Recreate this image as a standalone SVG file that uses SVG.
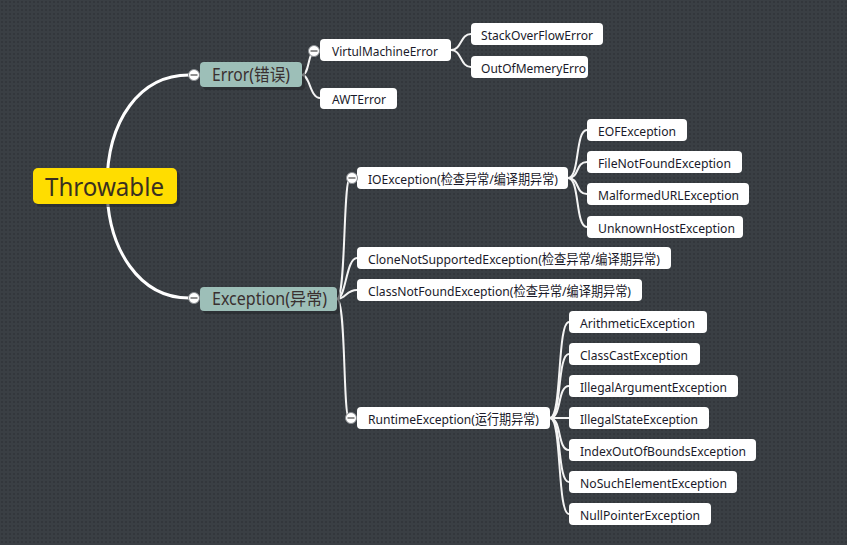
<svg xmlns="http://www.w3.org/2000/svg" width="847" height="545" viewBox="0 0 847 545">
<defs>
<pattern id="dots" width="4" height="4" patternUnits="userSpaceOnUse">
<rect width="4" height="4" fill="#3a3f44"/>
<rect x="1" y="1" width="2" height="2" fill="#33373c"/>
</pattern>
<g id="col">
<circle r="5.5" fill="#ffffff" stroke="#888c90" stroke-width="1"/>
<line x1="-3.5" y1="0" x2="3.5" y2="0" stroke="#555" stroke-width="1.3"/>
</g>
</defs>
<style>
.main{fill:none;stroke:#ffffff;stroke-width:3;stroke-linecap:round}
.sub{fill:none;stroke:#f4f4f4;stroke-width:2}
.box{fill:#ffffff}
.sh{fill:#25282b;opacity:0.6}
.t{font-family:"Microsoft YaHei","Noto Sans","Noto Sans CJK SC",sans-serif;font-size:13.2px;fill:#1a1a2a}
.l1{fill:#9dbfb8}
.t1{font-family:"Microsoft YaHei","Noto Sans","Noto Sans CJK SC",sans-serif;font-size:17.5px;fill:#3a3030}
</style>
<rect width="847" height="545" fill="url(#dots)"/>

<g id="connectors">
<path class="main" d="M107,186 C107,120 140,75 189,75"/>
<path class="main" d="M107,186 C107,250 140,298 189,298"/>
<path class="sub" d="M302,75 C310,75 307,51 316,51"/>
<path class="sub" d="M302,75 C310,75 310,98 320,98"/>
<path class="sub" d="M451,50 C462,50 460,34 471,34"/>
<path class="sub" d="M451,50 C462,50 460,67 471,67"/>
<path class="sub" d="M337,299 C346,299 343,178 350,178"/>
<path class="sub" d="M337,299 C346,299 346,258 357,258"/>
<path class="sub" d="M337,299 C346,299 346,290 357,290"/>
<path class="sub" d="M337,299 C346,299 343,418 349,418"/>
<path class="sub" d="M568,178 C580,178 575,130 587,130"/>
<path class="sub" d="M568,178 C580,178 575,162 587,162"/>
<path class="sub" d="M568,178 C580,178 575,194 587,194"/>
<path class="sub" d="M568,178 C580,178 575,227 587,227"/>
<path class="sub" d="M550,418 C562,418 557,322 569,322"/>
<path class="sub" d="M550,418 C562,418 557,354 569,354"/>
<path class="sub" d="M550,418 C562,418 557,386 569,386"/>
<path class="sub" d="M550,418 L569,418"/>
<path class="sub" d="M550,418 C562,418 557,450 569,450"/>
<path class="sub" d="M550,418 C562,418 557,482 569,482"/>
<path class="sub" d="M550,418 C562,418 557,514 569,514"/>
</g>

<g id="throwable">
<rect x="36" y="171" width="144" height="36" rx="5" class="sh"/>
<rect x="33" y="168" width="144" height="36" rx="5" fill="#ffdd00"/>
<text x="45" y="196" font-family="Microsoft YaHei,Noto Sans,sans-serif" font-size="25.5" fill="#3a3020" textLength="119" lengthAdjust="spacingAndGlyphs">Throwable</text>
</g>

<g id="error">
<rect x="203" y="65" width="102" height="25" rx="4" class="sh"/>
<rect x="200" y="62" width="102" height="25" rx="4" class="l1"/>
<text x="212" y="81" class="t1" textLength="78" lengthAdjust="spacingAndGlyphs">Error(错误)</text>
<use href="#col" x="194" y="75"/>
</g>

<g id="exception">
<rect x="203" y="290" width="137" height="24" rx="4" class="sh"/>
<rect x="200" y="287" width="137" height="24" rx="4" class="l1"/>
<text x="212" y="305" class="t1" textLength="115" lengthAdjust="spacingAndGlyphs">Exception(异常)</text>
<use href="#col" x="194" y="298"/>
</g>

<g id="vme">
<rect x="320" y="39" width="131" height="22" rx="4" class="box"/>
<text x="332" y="55.5" class="t" textLength="106" lengthAdjust="spacingAndGlyphs">VirtulMachineError</text>
<use href="#col" x="314" y="51"/>
</g>
<g id="sof">
<rect x="471" y="23" width="132" height="22" rx="4" class="box"/>
<text x="481" y="39.5" class="t" textLength="112" lengthAdjust="spacingAndGlyphs">StackOverFlowError</text>
</g>
<g id="oom">
<rect x="471" y="56" width="117" height="22" rx="4" class="box"/>
<text x="481" y="72.5" class="t" textLength="105" lengthAdjust="spacingAndGlyphs">OutOfMemeryErro</text>
</g>
<g id="awt">
<rect x="320" y="88" width="77" height="21" rx="4" class="box"/>
<text x="332" y="104" class="t" textLength="54" lengthAdjust="spacingAndGlyphs">AWTError</text>
</g>

<g id="io">
<rect x="357" y="167" width="211" height="22" rx="4" class="box"/>
<text x="368" y="183.5" class="t" textLength="190" lengthAdjust="spacingAndGlyphs">IOException(检查异常/编译期异常)</text>
<use href="#col" x="352" y="178"/>
</g>
<g id="eof">
<rect x="587" y="119" width="100" height="22" rx="4" class="box"/>
<text x="598" y="135.5" class="t" textLength="78" lengthAdjust="spacingAndGlyphs">EOFException</text>
</g>
<g id="fnf">
<rect x="587" y="151" width="155" height="22" rx="4" class="box"/>
<text x="598" y="167.5" class="t" textLength="133" lengthAdjust="spacingAndGlyphs">FileNotFoundException</text>
</g>
<g id="murl">
<rect x="587" y="183" width="162" height="22" rx="4" class="box"/>
<text x="598" y="199.5" class="t" textLength="141" lengthAdjust="spacingAndGlyphs">MalformedURLException</text>
</g>
<g id="uhe">
<rect x="587" y="216" width="156" height="22" rx="4" class="box"/>
<text x="598" y="232.5" class="t" textLength="137" lengthAdjust="spacingAndGlyphs">UnknownHostException</text>
</g>

<g id="clone">
<rect x="357" y="247" width="314" height="22" rx="4" class="box"/>
<text x="368" y="263.5" class="t" textLength="292" lengthAdjust="spacingAndGlyphs">CloneNotSupportedException(检查异常/编译期异常)</text>
</g>
<g id="cnf">
<rect x="357" y="279" width="285" height="22" rx="4" class="box"/>
<text x="368" y="295.5" class="t" textLength="263" lengthAdjust="spacingAndGlyphs">ClassNotFoundException(检查异常/编译期异常)</text>
</g>

<g id="runtime">
<rect x="357" y="407" width="193" height="22" rx="4" class="box"/>
<text x="368" y="423.5" class="t" textLength="171" lengthAdjust="spacingAndGlyphs">RuntimeException(运行期异常)</text>
<use href="#col" x="351" y="418"/>
</g>
<g id="arith">
<rect x="569" y="311" width="138" height="22" rx="4" class="box"/>
<text x="580" y="327.5" class="t" textLength="115" lengthAdjust="spacingAndGlyphs">ArithmeticException</text>
</g>
<g id="cce">
<rect x="569" y="343" width="131" height="22" rx="4" class="box"/>
<text x="580" y="359.5" class="t" textLength="108" lengthAdjust="spacingAndGlyphs">ClassCastException</text>
</g>
<g id="iae">
<rect x="569" y="375" width="169" height="22" rx="4" class="box"/>
<text x="580" y="391.5" class="t" textLength="147" lengthAdjust="spacingAndGlyphs">IllegalArgumentException</text>
</g>
<g id="ise">
<rect x="569" y="407" width="140" height="22" rx="4" class="box"/>
<text x="580" y="423.5" class="t" textLength="118" lengthAdjust="spacingAndGlyphs">IllegalStateException</text>
</g>
<g id="ioob">
<rect x="569" y="439" width="187" height="22" rx="4" class="box"/>
<text x="580" y="455.5" class="t" textLength="166" lengthAdjust="spacingAndGlyphs">IndexOutOfBoundsException</text>
</g>
<g id="nse">
<rect x="569" y="471" width="168" height="22" rx="4" class="box"/>
<text x="580" y="487.5" class="t" textLength="147" lengthAdjust="spacingAndGlyphs">NoSuchElementException</text>
</g>
<g id="npe">
<rect x="569" y="503" width="142" height="22" rx="4" class="box"/>
<text x="580" y="519.5" class="t" textLength="120" lengthAdjust="spacingAndGlyphs">NullPointerException</text>
</g>
</svg>
